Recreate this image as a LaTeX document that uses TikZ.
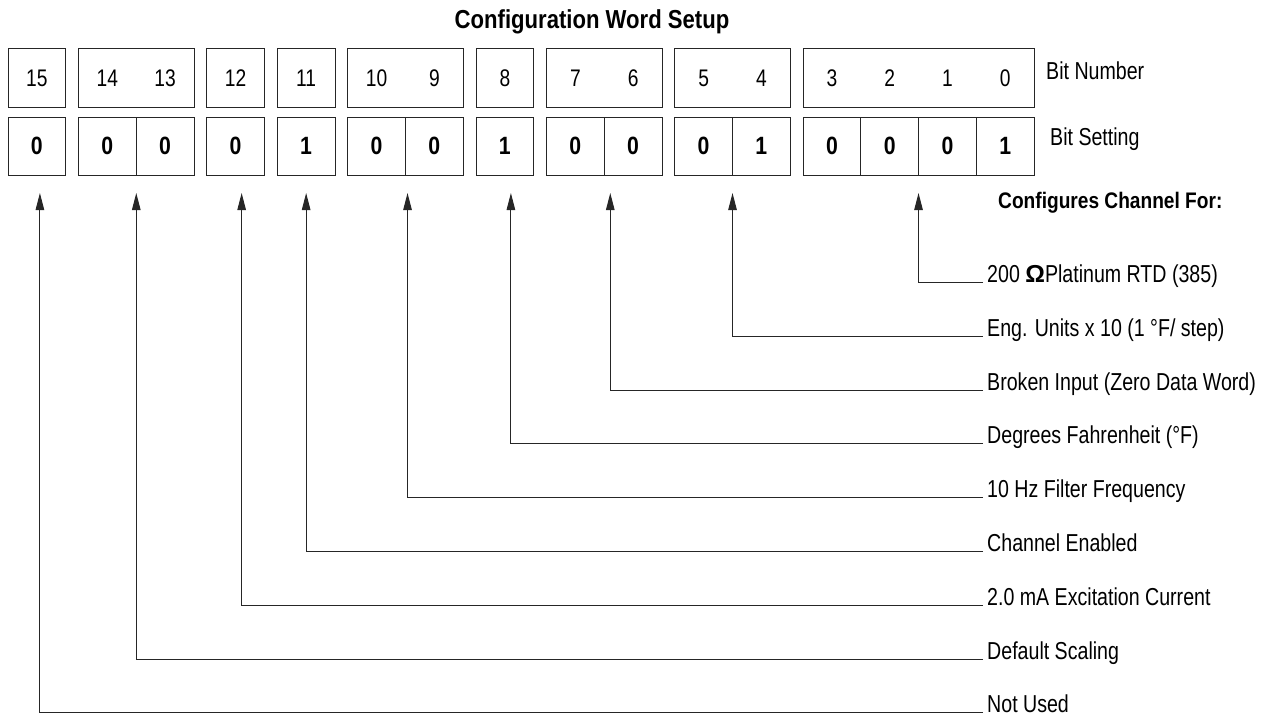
\documentclass[tikz,border=0pt]{standalone}
\usepackage{fontspec}
\setmainfont{Liberation Sans}[FakeStretch=0.8,BoldFeatures={FakeStretch=0.85}]
\newfontfamily\omegafont{Liberation Sans}
\usetikzlibrary{
    arrows.meta,
    positioning
}
\tikzstyle{bitset} = [
    rectangle,
    draw=black!85,
    line width=1pt,
    minimum width=57.75pt,
    minimum height=58pt,
    inner sep=0pt,
    outer sep=0pt,
    font=\fontsize{25}{30}\selectfont\bfseries
]
\tikzstyle{bitnum} = [
    rectangle,
    minimum width=57.75pt,
    minimum height=58pt,
    inner sep=0pt,
    outer sep=0pt,
    font=\fontsize{24}{29}\selectfont
]
\tikzstyle{group} = [
    draw=black!85,
    line width=1pt
]
\tikzstyle{purpose} = [
    anchor=base west,
    inner xsep=4pt,
    inner ysep=0pt,
    font=\fontsize{24.5}{29}\selectfont
]
\tikzstyle{arrow} = [
    -{Triangle[length=17pt,width=8.5pt]},
    line width=1pt,
    draw=black!85,
    shorten >=18pt
]

\begin{document}
\begin{tikzpicture}[x=1pt, y=-1pt]
        \useasboundingbox (0,0) rectangle (1269,717);

        % Title
        \node[font=\fontsize{26}{31}\selectfont\bfseries] (title) at (592,22) {Configuration Word Setup};

        % Bit settings
        \node[bitset] (s15) at (36.9,146) {0};
        \node[bitset, right=12.75pt of s15] (s14) {0};
        \node[bitset, right=0pt of s14] (s13) {0};
        \node[bitset, right=12.75pt of s13] (s12) {0};
        \node[bitset, right=12.75pt of s12] (s11) {1};
        \node[bitset, right=12.75pt of s11] (s10) {0};
        \node[bitset, right=0pt of s10] (s9) {0};
        \node[bitset, right=12.75pt of s9] (s8) {1};
        \node[bitset, right=12.75pt of s8] (s7) {0};
        \node[bitset, right=0pt of s7] (s6) {0};
        \node[bitset, right=12.75pt of s6] (s5) {0};
        \node[bitset, right=0pt of s5] (s4) {1};
        \node[bitset, right=12.75pt of s4] (s3) {0};
        \node[bitset, right=0pt of s3] (s2) {0};
        \node[bitset, right=0pt of s2] (s1) {0};
        \node[bitset, right=0pt of s1] (s0) {1};

        % Bit numbers
        \node[bitnum, above=10pt of s15] (n15) {15};
        \node[bitnum, above=10pt of s14] (n14) {14};
        \node[bitnum, above=10pt of s13] (n13) {13};
        \node[bitnum, above=10pt of s12] (n12) {12};
        \node[bitnum, above=10pt of s11] (n11) {11};
        \node[bitnum, above=10pt of s10] (n10) {10};
        \node[bitnum, above=10pt of s9] (n9) {9};
        \node[bitnum, above=10pt of s8] (n8) {8};
        \node[bitnum, above=10pt of s7] (n7) {7};
        \node[bitnum, above=10pt of s6] (n6) {6};
        \node[bitnum, above=10pt of s5] (n5) {5};
        \node[bitnum, above=10pt of s4] (n4) {4};
        \node[bitnum, above=10pt of s3] (n3) {3};
        \node[bitnum, above=10pt of s2] (n2) {2};
        \node[bitnum, above=10pt of s1] (n1) {1};
        \node[bitnum, above=10pt of s0] (n0) {0};

        \draw[group] (n15.north west) rectangle (n15.south east);
        \draw[group] (n14.north west) rectangle (n13.south east);
        \draw[group] (n12.north west) rectangle (n12.south east);
        \draw[group] (n11.north west) rectangle (n11.south east);
        \draw[group] (n10.north west) rectangle (n9.south east);
        \draw[group] (n8.north west) rectangle (n8.south east);
        \draw[group] (n7.north west) rectangle (n6.south east);
        \draw[group] (n5.north west) rectangle (n4.south east);
        \draw[group] (n3.north west) rectangle (n0.south east);

        % Row labels
        \node[purpose, inner xsep=0pt] (bitnumber) at (1046,80) {Bit Number};
        \node[purpose, inner xsep=0pt] (bitsetting) at (1050,145) {Bit Setting};
        \node[purpose, inner xsep=0pt, font=\fontsize{22.5}{27}\selectfont\bfseries] (configfor) at (998,208) {Configures Channel For:};

        % Meanings
        \node[purpose] (p0) at (983,282) {200 {\omegafont\bfseries Ω}Platinum RTD (385)};
        \node[purpose] (p4) at (983,336) {Eng. Units x 10 (1 °F/ step)};
        \node[purpose] (p6) at (983,390) {Broken Input (Zero Data Word)};
        \node[purpose] (p8) at (983,443) {Degrees Fahrenheit (°F)};
        \node[purpose] (p9) at (983,497) {10 Hz Filter Frequency};
        \node[purpose] (p11) at (983,551) {Channel Enabled};
        \node[purpose] (p12) at (983,605) {2.0 mA Excitation Current};
        \node[purpose] (p13) at (983,659) {Default Scaling};
        \node[purpose] (p15) at (983,712) {Not Used};

        % Arrows
        \draw[arrow] (p0.base west) -| (s2.south east);
        \draw[arrow] (p4.base west) -| (s5.south east);
        \draw[arrow] (p6.base west) -| ([xshift=6pt]s7.south east);
        \draw[arrow] (p8.base west) -| ([xshift=6pt]s8.south);
        \draw[arrow] (p9.base west) -| ([xshift=2pt]s10.south east);
        \draw[arrow] (p11.base west) -| (s11.south);
        \draw[arrow] (p12.base west) -| ([xshift=6pt]s12.south);
        \draw[arrow] (p13.base west) -| (s14.south east);
        \draw[arrow] (p15.base west) -| ([xshift=3pt]s15.south);
    \end{tikzpicture}
\end{document}
